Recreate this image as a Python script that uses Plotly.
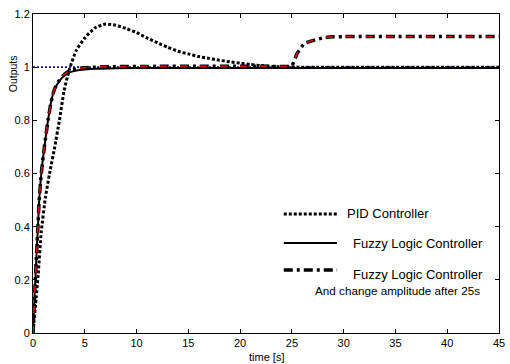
import plotly.graph_objects as go

# ---- data ----
pid_t = [0, 0.3, 0.5, 0.8, 1.2, 1.6, 2.1, 2.55, 3.0, 3.5, 4.2, 5.0, 6.0, 7.0, 8.0, 9.0, 10.0,
         11.0, 12.0, 13.0, 14.0, 15.0, 16.0, 17.0, 18.0, 19.0, 20.0, 21.0, 22.0, 23.0, 24.0, 26.0, 45.0]
pid_y = [0, 0.13, 0.22, 0.38, 0.51, 0.60, 0.70, 0.80, 0.91, 0.99, 1.064, 1.11, 1.148, 1.162, 1.158,
         1.145, 1.13, 1.11, 1.092, 1.075, 1.06, 1.05, 1.04, 1.033, 1.026, 1.02, 1.015, 1.01, 1.006,
         1.003, 1.001, 1.0, 1.0]

flc_t = [0, 0.2, 0.4, 0.5, 0.6, 0.8, 1.1, 1.45, 1.75, 2.05, 2.5, 2.9, 3.5, 4.2, 5.0, 6.0, 8.0, 12.0,
         20.0, 30.0, 45.0]
flc_y = [0, 0.18, 0.34, 0.42, 0.50, 0.60, 0.70, 0.80, 0.87, 0.915, 0.945, 0.964, 0.98, 0.987,
         0.991, 0.994, 0.996, 0.997, 0.997, 0.997, 0.997]

amp_t = [0, 0.2, 0.4, 0.5, 0.6, 0.8, 1.1, 1.45, 1.75, 2.05, 2.5, 2.9, 3.5, 4.2, 5.0, 6.0, 8.0,
         12.0, 16.0, 20.0, 23.0, 24.6, 25.0, 25.5, 26.2, 27.0, 28.1, 29.0, 30.0, 35.0, 40.0, 45.0]
amp_y = [0, 0.18, 0.34, 0.42, 0.50, 0.60, 0.70, 0.80, 0.87, 0.915, 0.948, 0.968, 0.985, 0.993,
         0.998, 1.0, 1.002, 1.003, 1.003, 1.003, 1.003, 1.003, 1.006, 1.051, 1.089, 1.10, 1.111,
         1.114, 1.115, 1.115, 1.115, 1.115]

ref_t = [0, 45]
ref_y = [1, 1]

x_ticks = [0, 5, 10, 15, 20, 25, 30, 35, 40, 45]
y_ticks = [0, 0.2, 0.4, 0.6, 0.8, 1, 1.2]

legend_labels = ["PID Controller", "Fuzzy Logic Controller", "Fuzzy Logic Controller"]
legend_note = "And change amplitude after 25s"

FONT = "Liberation Sans, Arial, Helvetica, sans-serif"

fig = go.Figure()
fig.add_trace(go.Scatter(x=ref_t, y=ref_y, mode="lines",
                         line=dict(color="#101070", width=1.6, dash="2px,2px")))
fig.add_trace(go.Scatter(x=flc_t, y=flc_y, mode="lines",
                         line=dict(color="black", width=2, shape="spline", smoothing=0.6)))
fig.add_trace(go.Scatter(x=pid_t, y=pid_y, mode="lines",
                         line=dict(color="black", width=3, dash="3px,2px", shape="spline", smoothing=0.6)))
fig.add_trace(go.Scatter(x=amp_t, y=amp_y, mode="lines",
                         line=dict(color="black", width=3.5, dash="9px,4px,3px,4px",
                                   shape="spline", smoothing=0.5)))
fig.add_trace(go.Scatter(x=amp_t, y=amp_y, mode="lines",
                         line=dict(color="#d01010", width=1.6, dash="7px,13px",
                                   shape="spline", smoothing=0.5)))

W, H = 510, 364
L, R, T, B = 33, 5, 14, 31
pw, ph = W - L - R, H - T - B


def px(xp):
    return (xp - L) / pw


def py(yp):
    return (H - B - yp) / ph


shapes = [
    dict(type="line", xref="paper", yref="paper", x0=px(287), x1=px(341), y0=py(214), y1=py(214),
         line=dict(color="black", width=3, dash="3px,2px")),
    dict(type="line", xref="paper", yref="paper", x0=px(287), x1=px(341), y0=py(243), y1=py(243),
         line=dict(color="black", width=2)),
    dict(type="line", xref="paper", yref="paper", x0=px(287), x1=px(341), y0=py(270), y1=py(270),
         line=dict(color="black", width=3.5, dash="9px,4px,3px,4px")),
]

annotations = [
    dict(text=legend_labels[0], xref="paper", yref="paper", x=px(349), y=py(214),
         xanchor="left", yanchor="middle", showarrow=False, font=dict(size=13, color="black", family=FONT)),
    dict(text=legend_labels[1], xref="paper", yref="paper", x=px(355), y=py(243),
         xanchor="left", yanchor="middle", showarrow=False, font=dict(size=13, color="black", family=FONT)),
    dict(text=legend_labels[2], xref="paper", yref="paper", x=px(355), y=py(274),
         xanchor="left", yanchor="middle", showarrow=False, font=dict(size=13, color="black", family=FONT)),
    dict(text=legend_note, xref="paper", yref="paper", x=px(317), y=py(290),
         xanchor="left", yanchor="middle", showarrow=False, font=dict(size=11.7, color="black", family=FONT)),
    dict(text="Outputs", xref="paper", yref="paper", x=px(13), y=py(74), textangle=-90,
         xanchor="center", yanchor="middle", showarrow=False, font=dict(size=10.5, color="black", family=FONT)),
    dict(text="time [s]", xref="paper", yref="paper", x=px(269), y=py(357),
         xanchor="center", yanchor="middle", showarrow=False, font=dict(size=11, color="black", family=FONT)),
]

fig.update_layout(
    width=W, height=H,
    margin=dict(l=L, r=R, t=T, b=B),
    paper_bgcolor="white", plot_bgcolor="white",
    showlegend=False,
    font=dict(family=FONT, size=11, color="black"),
    shapes=shapes, annotations=annotations,
)
fig.update_xaxes(range=[0, 45], tickvals=x_ticks, ticks="inside", ticklen=4, tickcolor="black",
                 showline=True, linecolor="black", linewidth=1, mirror="ticks",
                 showgrid=False, zeroline=False, fixedrange=True, ticklabeloverflow="allow")
fig.update_yaxes(range=[0, 1.2], tickvals=y_ticks, ticks="inside", ticklen=4, tickcolor="black",
                 showline=True, linecolor="black", linewidth=1, mirror="ticks",
                 showgrid=False, zeroline=False, fixedrange=True, ticklabeloverflow="allow")

fig.write_html("out.html")
